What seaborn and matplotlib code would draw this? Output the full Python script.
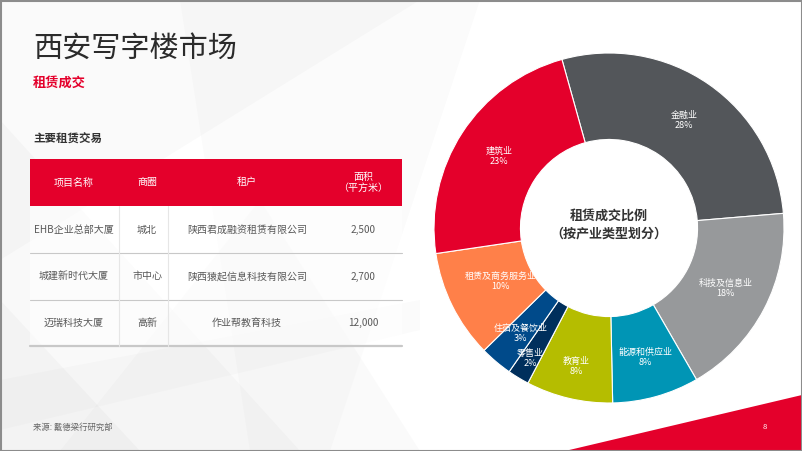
import matplotlib
matplotlib.use("Agg")
import matplotlib.pyplot as plt
from matplotlib.patches import Polygon, Rectangle
import numpy as np
import seaborn as sns

# ---------------- data ----------------
industries = ["金融业", "科技及信息业", "能源和供应业", "教育业", "零售业", "住宿及餐饮业", "租赁及商务服务业", "建筑业"]
shares = [28, 18, 8, 8, 2, 3, 10, 23]

table_header = ["项目名称", "商圈", "租户", "面积\n（平方米）"]
projects = ["EHB企业总部大厦", "城建新时代大厦", "迈瑞科技大厦"]
districts = ["城北", "市中心", "高新"]
tenants = ["陕西君成融资租赁有限公司", "陕西猿起信息科技有限公司", "作业帮教育科技"]
areas = ["2,500", "2,700", "12,000"]

title = "西安写字楼市场"
subtitle = "租赁成交"
table_title = "主要租赁交易"
center_label = "租赁成交比例\n（按产业类型划分）"
source = "来源: 戴德梁行研究部"
page_no = "8"

# ---------------- style ----------------
sns.set_theme(style="white")
plt.rcParams["font.family"] = ["Noto Sans CJK SC", "DejaVu Sans"]

colors = ["#53565a", "#97999b", "#0095b5", "#b5bd00", "#002f5c", "#004a8a", "#ff8049", "#e4002b"]
label_radius = [0.75, 0.75, 0.77, 0.81, 0.87, 0.785, 0.69, 0.75]
RED = "#e4002b"

W, H = 802, 451
fig = plt.figure(figsize=(W / 100, H / 100), dpi=100)
fig.patch.set_facecolor("white")

# background axes in pixel coordinates
bg = fig.add_axes([0, 0, 1, 1])
bg.set_xlim(0, W)
bg.set_ylim(H, 0)
bg.axis("off")

# subtle light-gray geometric background shapes
shapes = [
    [(0, 0), (420, 0), (0, 260)],
    [(0, 120), (300, 451), (0, 451)],
    [(60, 451), (260, 200), (420, 451)],
    [(180, 0), (480, 0), (330, 451), (250, 451)],
    [(0, 300), (140, 451), (0, 451)],
    [(0, 380), (420, 300), (420, 330), (0, 430)],
]
alphas = [0.04, 0.05, 0.035, 0.03, 0.05, 0.03]
for pts, a in zip(shapes, alphas):
    bg.add_patch(Polygon(pts, closed=True, facecolor="#8a8a8a", edgecolor="none", alpha=a, zorder=0))

# red triangle bottom right
bg.add_patch(Polygon([(565, 451), (802, 395), (802, 451)], closed=True, facecolor=RED, edgecolor="none", zorder=1))

# texts
bg.text(33, 50, title, fontsize=21, color="#2b2b2b", va="center", ha="left", fontweight="light", zorder=3)
bg.text(33, 83, subtitle, fontsize=9.5, color=RED, va="center", ha="left", fontweight="bold", zorder=3)
bg.text(33, 139, table_title, fontsize=8.3, color="#333333", va="center", ha="left", fontweight="bold", zorder=3)
bg.text(33, 427, source, fontsize=6, color="#666666", va="center", ha="left", zorder=3)
bg.text(765, 427, page_no, fontsize=5.5, color="white", va="center", ha="center", zorder=3)

# table
tx0, tx1 = 30, 402
hy0, hy1 = 159, 206
row_edges = [206, 253, 300, 346]
col_centers = [74, 147, 247, 363]
col_lines = [119, 168]
bg.add_patch(Rectangle((tx0, hy0), tx1 - tx0, hy1 - hy0, facecolor=RED, edgecolor="none", zorder=2))
bg.add_patch(Rectangle((tx0, hy1), tx1 - tx0, row_edges[-1] - hy1, facecolor="white", edgecolor="none", alpha=0.55, zorder=2))
for xc, h in zip(col_centers, table_header):
    bg.text(xc, (hy0 + hy1) / 2, h, fontsize=7.2, color="white", ha="center", va="center", linespacing=1.15, zorder=3)
rows = list(zip(projects, districts, tenants, areas))
for i, row in enumerate(rows):
    yc = (row_edges[i] + row_edges[i + 1]) / 2
    for xc, val in zip(col_centers, row):
        bg.text(xc, yc, val, fontsize=7.2, color="#595959", ha="center", va="center", zorder=3)
for j, y in enumerate(row_edges[1:]):
    lw = 1.6 if j == len(row_edges) - 2 else 0.8
    bg.plot([tx0, tx1], [y, y], color="#c8c8c8", lw=lw, zorder=3)
for x in col_lines:
    bg.plot([x, x], [hy1, row_edges[-1]], color="#e6e6e6", lw=0.8, zorder=3)

# slide border
bg.add_patch(Rectangle((0.5, 0.5), W - 1, H - 1, facecolor="none", edgecolor="#8c8c8c", lw=1.5, zorder=5))

# ---------------- donut ----------------
cx, cy, R = 609, 228, 175
ax = fig.add_axes([(cx - R) / W, (H - cy - R) / H, 2 * R / W, 2 * R / H])
ax.set_xlim(-1, 1)
ax.set_ylim(-1, 1)
ax.set_aspect("equal")
ax.axis("off")
ax.patch.set_alpha(0)

wedges, _texts, autotexts = ax.pie(
    shares,
    colors=colors,
    startangle=105.6,
    counterclock=False,
    radius=1.0,
    autopct=lambda p: "",
    pctdistance=0.75,
    wedgeprops=dict(width=0.494, edgecolor="white", linewidth=0.8),
)
for t, name, val, r in zip(autotexts, industries, shares, label_radius):
    x, y = t.get_position()
    t.set_position((x * r / 0.75, y * r / 0.75))
    t.set_text(f"{name}\n{val}%")
    t.set_color("white")
    t.set_fontsize(6.5)
    t.set_linespacing(1.15)
    t.set_ha("center")
    t.set_va("center")

ax.text(0, 0.02, center_label, ha="center", va="center", fontsize=9.4, fontweight="bold", color="#333333", linespacing=1.3)
ax.set_xlim(-1, 1)
ax.set_ylim(-1, 1)

fig.savefig("out.png", dpi=100, facecolor="white")
